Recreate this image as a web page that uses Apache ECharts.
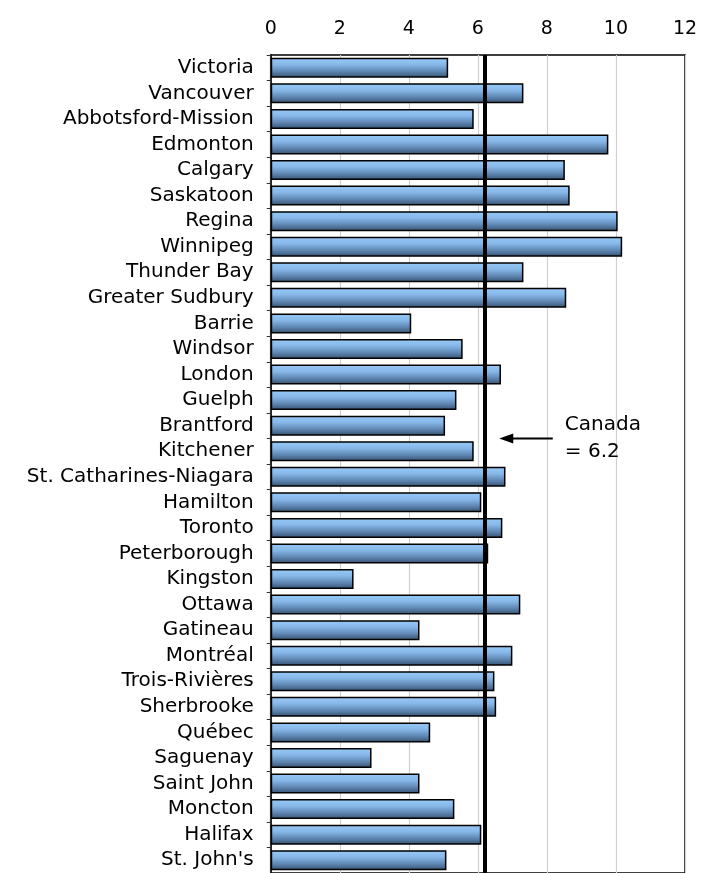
<!DOCTYPE html>
<html><head><meta charset="utf-8">
<script src="https://cdn.jsdelivr.net/npm/echarts@6/dist/echarts.min.js"></script>
<style>html,body{margin:0;padding:0;background:#fff}#c{width:701px;height:873px}</style>
</head><body><div id="c"></div>
<script>
const categories = ['Victoria','Vancouver','Abbotsford-Mission','Edmonton','Calgary','Saskatoon','Regina','Winnipeg','Thunder Bay','Greater Sudbury','Barrie','Windsor','London','Guelph','Brantford','Kitchener','St. Catharines-Niagara','Hamilton','Toronto','Peterborough','Kingston','Ottawa','Gatineau','Montréal','Trois-Rivières','Sherbrooke','Québec','Saguenay','Saint John','Moncton','Halifax',"St. John's"];
const values = [5.14,7.32,5.88,9.78,8.52,8.66,10.05,10.18,7.32,8.56,4.07,5.56,6.67,5.38,5.05,5.88,6.80,6.10,6.71,6.30,2.40,7.23,4.31,7.00,6.48,6.53,4.62,2.92,4.31,5.32,6.10,5.09];
const canadaValue = 6.2;
const annotationLines = ['Canada', '= 6.2'];
const annotationBetween = ['Brantford', 'Kitchener'];
const arrowFromValue = 8.17, arrowToValue = 6.62, annotationTextValue = 8.52;
const xMin = 0, xMax = 12, xStep = 2;

const FONT = 'DejaVu Sans';
const chart = echarts.init(document.getElementById('c'), null, {renderer: 'canvas'});
chart.setOption({
  animation: false,
  backgroundColor: '#fff',
  grid: {left: 270.7, top: 55, width: 414.3, height: 821.5, show: true, borderColor: '#000', borderWidth: 1.5, backgroundColor: 'transparent'},
  xAxis: {
    type: 'value', position: 'top', min: xMin, max: xMax, interval: xStep,
    axisLine: {show: false}, axisTick: {show: false},
    axisLabel: {color: '#000', fontFamily: FONT, fontSize: 19, margin: 16},
    splitLine: {show: true, lineStyle: {color: '#d0d0d0', width: 1.2}}
  },
  yAxis: {
    type: 'category', data: categories, inverse: true,
    axisLine: {show: true, lineStyle: {color: '#000', width: 1.5}},
    axisTick: {show: true, interval: 0, length: 4, lineStyle: {color: '#333', width: 1}},
    axisLabel: {interval: 0, color: '#000', fontFamily: FONT, fontSize: 20, margin: 17}
  },
  series: [{
    type: 'bar', data: values, barCategoryGap: '22%',
    itemStyle: {
      borderColor: '#000', borderWidth: 1.5,
      color: new echarts.graphic.LinearGradient(0, 0, 0, 1, [
        {offset: 0, color: '#97caf9'},
        {offset: 0.35, color: '#86b7e8'},
        {offset: 0.7, color: '#5d84b0'},
        {offset: 1, color: '#34506d'}
      ])
    },
    markLine: {
      silent: true, symbol: ['none', 'none'], label: {show: false},
      lineStyle: {color: '#000', width: 4, type: 'solid'},
      data: [{xAxis: canadaValue}]
    }
  }]
});

function drawAnnotation() {
  const a = chart.convertToPixel({gridIndex: 0}, [arrowFromValue, annotationBetween[0]]);
  const b = chart.convertToPixel({gridIndex: 0}, [arrowFromValue, annotationBetween[1]]);
  const y = (a[1] + b[1]) / 2;
  const x1 = a[0];
  const x2 = chart.convertToPixel({gridIndex: 0}, [arrowToValue, annotationBetween[0]])[0];
  const xt = chart.convertToPixel({gridIndex: 0}, [annotationTextValue, annotationBetween[0]])[0];
  chart.setOption({
    graphic: [
      {type: 'line', shape: {x1: x1, y1: y, x2: x2 + 10, y2: y}, style: {stroke: '#000', lineWidth: 2}, z: 100},
      {type: 'polygon', shape: {points: [[x2, y], [x2 + 14, y - 5], [x2 + 14, y + 5]]}, style: {fill: '#000'}, z: 100},
      {type: 'text', x: xt, y: y, z: 100, style: {text: annotationLines.join('\n'), fill: '#000', fontFamily: FONT, fontSize: 20, lineHeight: 27.5, verticalAlign: 'middle', align: 'left'}}
    ]
  });
}
drawAnnotation();
</script>
</body></html>
